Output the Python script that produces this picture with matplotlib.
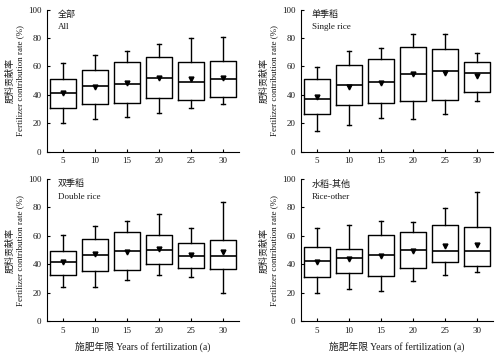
import matplotlib
matplotlib.use('Agg')
import matplotlib.pyplot as plt

plt.rcParams['font.family'] = ['Liberation Serif', 'Noto Sans CJK SC']
plt.rcParams['font.size'] = 6.5
plt.rcParams['font.weight'] = 'light'

# years of fertilization
years = [5, 10, 15, 20, 25, 30]

# panel names (Chinese, English)
panel_cn = ['全部', '单季稻', '双季稻', '水稻-其他']
panel_en = ['All', 'Single rice', 'Double rice', 'Rice-other']

# box statistics per panel: lower whisker, q1, median, q3, upper whisker, mean
all_lo = [20.5, 22.8, 24.7, 27.5, 30.4, 33.2]
all_q1 = [30.4, 33.4, 34.6, 37.6, 36.5, 38.4]
all_med = [41.0, 46.0, 47.5, 51.8, 49.0, 50.8]
all_q3 = [51.0, 57.4, 62.8, 66.6, 62.8, 63.5]
all_hi = [62.4, 68.0, 70.6, 76.0, 79.8, 80.7]
all_mean = [41.0, 45.6, 48.0, 51.8, 51.3, 51.8]

single_lo = [14.8, 18.8, 23.5, 23.3, 26.4, 35.5]
single_q1 = [26.6, 32.7, 34.4, 36.0, 36.7, 42.1]
single_med = [37.2, 46.6, 49.2, 54.6, 56.5, 55.5]
single_q3 = [50.8, 61.2, 65.2, 73.4, 72.0, 62.8]
single_hi = [59.3, 70.6, 73.2, 82.6, 82.6, 69.6]
single_mean = [38.4, 45.6, 48.5, 54.8, 55.3, 53.0]

double_lo = [24.2, 24.2, 28.9, 32.4, 31.2, 20.0]
double_q1 = [32.2, 35.2, 35.9, 40.4, 37.3, 36.9]
double_med = [41.5, 46.7, 49.3, 50.0, 46.0, 45.5]
double_q3 = [49.3, 58.0, 62.9, 60.3, 54.7, 57.0]
double_hi = [60.8, 67.1, 70.4, 75.1, 65.7, 83.8]
double_mean = [41.5, 47.2, 48.4, 50.9, 46.5, 49.0]

other_lo = [19.9, 22.7, 21.1, 27.9, 32.8, 34.9]
other_q1 = [31.4, 33.7, 31.9, 37.2, 41.9, 38.6]
other_med = [42.4, 44.7, 46.8, 50.4, 49.2, 49.2]
other_q3 = [52.0, 51.0, 60.4, 62.8, 67.9, 66.5]
other_hi = [65.3, 67.9, 70.7, 69.6, 79.4, 91.1]
other_mean = [41.9, 44.0, 46.1, 49.4, 53.2, 53.6]

panels = [
    (all_lo, all_q1, all_med, all_q3, all_hi, all_mean),
    (single_lo, single_q1, single_med, single_q3, single_hi, single_mean),
    (double_lo, double_q1, double_med, double_q3, double_hi, double_mean),
    (other_lo, other_q1, other_med, other_q3, other_hi, other_mean),
]

# axes rectangles [left, bottom, width, height] in figure fraction
rects = [
    [0.0944, 0.574, 0.3855, 0.399],
    [0.6044, 0.574, 0.3855, 0.399],
    [0.0944, 0.098, 0.3855, 0.399],
    [0.6044, 0.098, 0.3855, 0.399],
]

txt = '#1a1a1a'
fig = plt.figure(figsize=(4.98, 3.56), dpi=100)

for i in range(4):
    ax = fig.add_axes(rects[i])
    lo, q1, med, q3, hi, mn = panels[i]
    stats = []
    for j in range(len(years)):
        stats.append({'whislo': lo[j], 'q1': q1[j], 'med': med[j], 'q3': q3[j],
                      'whishi': hi[j], 'mean': mn[j], 'fliers': []})
    lp = dict(color='black', linewidth=1.0)
    ax.bxp(stats, positions=range(1, 7), widths=0.8, capwidths=0.12,
           showmeans=True, showfliers=False,
           boxprops=lp, whiskerprops=lp, capprops=lp,
           medianprops=dict(color='black', linewidth=1.2),
           meanprops=dict(marker='v', markerfacecolor='black',
                          markeredgecolor='black', markersize=3.5))
    ax.set_xlim(0.5, 6.5)
    ax.set_ylim(0, 100)
    ax.set_xticks(range(1, 7))
    ax.set_xticklabels([str(y) for y in years])
    ax.set_yticks(range(0, 101, 20))
    ax.spines['top'].set_visible(False)
    ax.spines['right'].set_visible(False)
    ax.spines['left'].set_linewidth(0.8)
    ax.spines['bottom'].set_linewidth(0.8)
    ax.tick_params(direction='in', length=2.5, width=0.8, labelsize=6.5,
                   labelcolor=txt, pad=4)
    ax.set_ylabel('肥料贡献率\nFertilizer contribution rate (%)', fontsize=6.5,
                  color=txt, linespacing=1.15, labelpad=3)
    ax.text(0.055, 0.965, panel_cn[i], transform=ax.transAxes, fontsize=6.5,
            color=txt, va='center', ha='left')
    ax.text(0.055, 0.875, panel_en[i], transform=ax.transAxes, fontsize=6.5,
            color=txt, va='center', ha='left')
    if i >= 2:
        ax.set_xlabel('施肥年限 Years of fertilization (a)', fontsize=7,
                      color=txt, labelpad=5)

plt.savefig('out.png', dpi=100)
